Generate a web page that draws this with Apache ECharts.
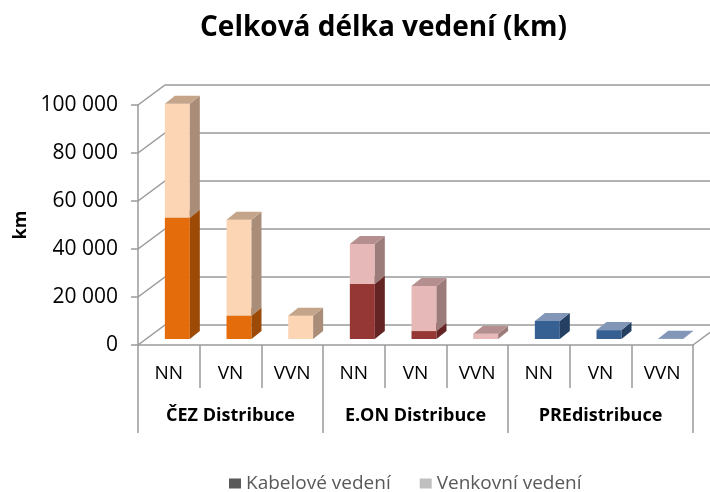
<!DOCTYPE html>
<html lang="cs">
<head>
<meta charset="UTF-8" />
<title>Celková délka vedení (km)</title>
<script src="https://cdn.jsdelivr.net/npm/echarts@6/dist/echarts.min.js"></script>
<style>
    html, body { margin: 0; padding: 0; background: #fff; }
    #chart { width: 710px; height: 492px; }
</style>
</head>
<body>
<div id="chart"></div>
<script>
    // data
    const categories = ["NN", "VN", "VVN", "NN", "VN", "VVN", "NN", "VN", "VVN"];
    const groups = ["ČEZ Distribuce", "E.ON Distribuce", "PREdistribuce"];
    const cable = [50500, 9700, 0, 22900, 3300, 0, 7500, 3700, 150];
    const overhead = [47500, 40000, 9700, 16700, 18800, 2200, 0, 0, 0];
    const yTicks = [0, 20000, 40000, 60000, 80000, 100000];

    // colours per group: [front, side, top]
    const cableColors = [
        ["#e46c0a", "#9c4a06", "#b4590a"],
        ["#953735", "#632423", "#7a2d2b"],
        ["#376092", "#243f61", "#8296b7"],
    ];
    const overheadColors = [
        ["#fcd5b5", "#a98d78", "#c5a58a"],
        ["#e6b9b8", "#9c7b7b", "#b58f90"],
        ["#b9cde5", "#7f8d9e", "#a0b0c8"],
    ];

    const WALL = [27, -20];   // depth of the back wall
    const BAR_OFF = [8.5, -6]; // front face of bars inside the depth
    const BAR_D = [10, -8];    // depth of one bar
    const GRID_LINE = "#9a9a9a";
    const FONT = "'Open Sans', Lato, sans-serif";

    function fmt(v) {
        return String(v).replace(/\B(?=(\d{3})+(?!\d))/g, " ");
    }

    function renderWall(params, api) {
        const v = api.value(1);
        const band = api.size([1, 0])[0];
        const p0 = api.coord([0, v]);
        const p1 = api.coord([categories.length - 1, v]);
        const x0 = p0[0] - band / 2;
        const xr = p1[0] + band / 2;
        const y = p0[1];
        const style = { stroke: GRID_LINE, lineWidth: 1.5, fill: null };
        const children = [{
            type: "polyline",
            shape: { points: [[x0, y], [x0 + WALL[0], y + WALL[1]], [xr + WALL[0], y + WALL[1]]] },
            style,
        }];
        if (v === 0) {
            children.push({
                type: "line",
                shape: { x1: xr, y1: y, x2: xr + WALL[0], y2: y + WALL[1] },
                style,
            });
        }
        return { type: "group", children };
    }

    function makeBar(colors) {
        return function (params, api) {
            const i = api.value(0);
            const lo = api.value(1);
            const hi = api.value(2);
            if (hi <= lo) return;
            const b = api.coord([i, lo]);
            const t = api.coord([i, hi]);
            const band = api.size([1, 0])[0];
            const w = band * 0.405;
            const xl = b[0] - w / 2 + BAR_OFF[0];
            const xr = xl + w;
            const yb = b[1] + BAR_OFF[1];
            const yt = t[1] + BAR_OFF[1];
            const c = colors[Math.floor(i / 3)];
            return {
                type: "group",
                children: [
                    { type: "rect", shape: { x: xl, y: yt, width: w, height: yb - yt }, style: { fill: c[0] } },
                    {
                        type: "polygon",
                        shape: { points: [[xr, yb], [xr + BAR_D[0], yb + BAR_D[1]], [xr + BAR_D[0], yt + BAR_D[1]], [xr, yt]] },
                        style: { fill: c[1] },
                    },
                    {
                        type: "polygon",
                        shape: { points: [[xl, yt], [xr, yt], [xr + BAR_D[0], yt + BAR_D[1]], [xl + BAR_D[0], yt + BAR_D[1]]] },
                        style: { fill: c[2] },
                    },
                ],
            };
        };
    }

    const cableData = cable.map((v, i) => [i, 0, v]);
    const overheadData = overhead.map((v, i) => [i, cable[i], cable[i] + v]);

    const chart = echarts.init(document.getElementById("chart"));
    chart.setOption({
        animation: false,
        title: {
            text: "Celková délka vedení (km)",
            left: 195,
            top: 9,
            textStyle: { fontFamily: FONT, fontSize: 28, fontWeight: "bold", color: "#000" },
        },
        legend: {
            left: 224,
            top: 469,
            icon: "rect",
            itemWidth: 12,
            itemHeight: 10,
            itemGap: 29,
            textStyle: { fontFamily: FONT, fontSize: 19, color: "#595959" },
            data: ["Kabelové vedení", "Venkovní vedení"],
        },
        grid: { left: 138, right: 17, top: 105, bottom: 147, outerBoundsMode: "none" },
        xAxis: [
            {
                type: "category",
                data: categories,
                axisLine: { show: true, lineStyle: { color: GRID_LINE, width: 1.5 } },
                axisTick: { show: true, interval: 0, length: 43, lineStyle: { color: GRID_LINE, width: 1.5 } },
                axisLabel: { interval: 0, margin: 19, fontFamily: FONT, fontSize: 19, color: "#000" },
            },
            {
                type: "category",
                data: groups,
                position: "bottom",
                axisLine: { show: false },
                axisTick: { show: true, interval: 0, length: 88, lineStyle: { color: GRID_LINE, width: 1.5 } },
                axisLabel: { interval: 0, margin: 62, fontFamily: FONT, fontSize: 18, fontWeight: "bold", color: "#000" },
            },
        ],
        yAxis: {
            type: "value",
            min: 0,
            max: 100000,
            interval: 20000,
            name: "km",
            nameLocation: "middle",
            nameGap: 108,
            nameRotate: 90,
            nameTextStyle: { fontFamily: FONT, fontSize: 18, fontWeight: "bold", color: "#000" },
            axisLine: { show: true, lineStyle: { color: GRID_LINE, width: 1.5 } },
            axisTick: { show: true, length: 7, lineStyle: { color: GRID_LINE, width: 1.5 } },
            splitLine: { show: false },
            axisLabel: { margin: 20, fontFamily: FONT, fontSize: 21, color: "#000", formatter: fmt },
        },
        series: [
            {
                type: "custom",
                silent: true,
                clip: false,
                renderItem: renderWall,
                encode: { x: 0, y: 1 },
                data: yTicks.map((v) => [0, v]),
            },
            {
                name: "Kabelové vedení",
                type: "custom",
                clip: false,
                itemStyle: { color: "#595959" },
                renderItem: makeBar(cableColors),
                encode: { x: 0, y: [1, 2] },
                data: cableData,
            },
            {
                name: "Venkovní vedení",
                type: "custom",
                clip: false,
                itemStyle: { color: "#bfbfbf" },
                renderItem: makeBar(overheadColors),
                encode: { x: 0, y: [1, 2] },
                data: overheadData,
            },
        ],
    });
</script>
</body>
</html>
